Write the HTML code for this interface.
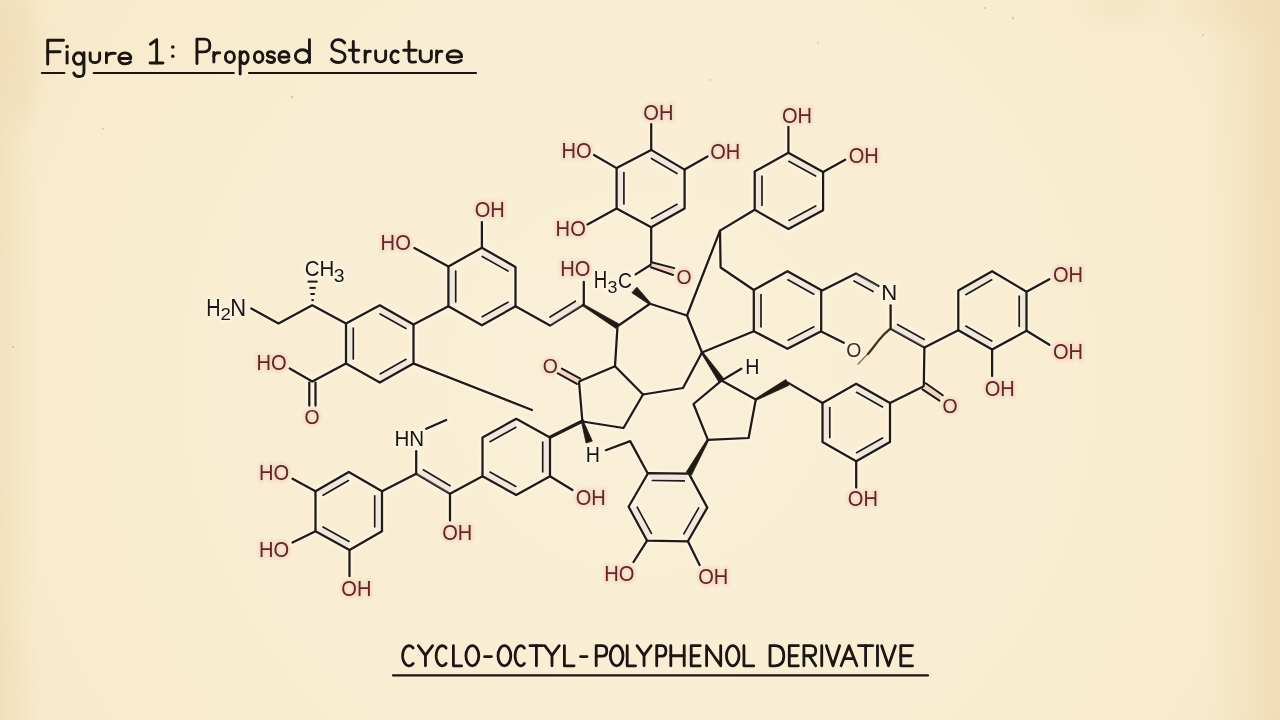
<!DOCTYPE html>
<html><head><meta charset="utf-8"><style>
html,body{margin:0;padding:0;width:1280px;height:720px;overflow:hidden;}
body{background:#f3e7cb;font-family:"Liberation Sans",sans-serif;}
svg{display:block;position:absolute;left:0;top:0;}
text{font-family:"Liberation Sans",sans-serif;}
</style></head><body>
<svg width="1280" height="720" viewBox="0 0 1280 720">
<defs>
<radialGradient id="bg" cx="640" cy="380" r="820" gradientUnits="userSpaceOnUse">
<stop offset="0" stop-color="#f9f0d8"/>
<stop offset="0.45" stop-color="#f9eed3"/>
<stop offset="0.75" stop-color="#f8ebce"/>
<stop offset="1" stop-color="#f6e6c5"/>
</radialGradient>
<linearGradient id="le" x1="0" y1="0" x2="1" y2="0">
<stop offset="0" stop-color="#ead3a8" stop-opacity="0.38"/>
<stop offset="1" stop-color="#ead3a8" stop-opacity="0"/>
</linearGradient>
<linearGradient id="re" x1="1" y1="0" x2="0" y2="0">
<stop offset="0" stop-color="#ecd3a6" stop-opacity="0.55"/>
<stop offset="1" stop-color="#eed7ac" stop-opacity="0"/>
</linearGradient>
<filter id="bb" x="-50%" y="-50%" width="200%" height="200%"><feGaussianBlur stdDeviation="10"/></filter>
<filter id="gb" x="-5%" y="-5%" width="110%" height="110%"><feGaussianBlur stdDeviation="1.2"/></filter>
<filter id="hb" x="-20%" y="-20%" width="140%" height="140%"><feGaussianBlur stdDeviation="1.6"/></filter>
</defs>
<rect width="1280" height="720" fill="url(#bg)"/>
<rect x="0" y="0" width="40" height="720" fill="url(#le)"/>
<rect x="1205" y="0" width="75" height="720" fill="url(#re)"/>
<g filter="url(#bb)" fill="#eed8ae" opacity="0.3">
<ellipse cx="1235" cy="8" rx="55" ry="22"/>
<ellipse cx="1120" cy="6" rx="40" ry="14"/>
<ellipse cx="20" cy="60" rx="25" ry="60"/>
</g>
<g fill="#b8a88c" opacity="0.55">
<circle cx="985" cy="8" r="1.1"/><circle cx="1013" cy="18" r="1.2"/><circle cx="818" cy="43" r="0.9"/><circle cx="710" cy="80" r="0.9"/>
<circle cx="292" cy="97" r="1.2"/><circle cx="103" cy="129" r="1"/><circle cx="13" cy="347" r="1.1"/><circle cx="1203" cy="35" r="0.9"/>
</g>
<g filter="url(#gb)" opacity="0.55" stroke-linecap="round" stroke-linejoin="round">
<polyline points="251.3,308.4 278.5,323.5 312.2,305.3 346.0,323.5" fill="none" stroke="#fffaf0" stroke-width="6"/>
<line x1="307.6" y1="281.6" x2="317.6" y2="281.6" stroke="#fffaf0" stroke-width="6" stroke-linecap="butt"/>
<line x1="309.5" y1="287.9" x2="315.7" y2="287.9" stroke="#fffaf0" stroke-width="6" stroke-linecap="butt"/>
<line x1="310.4" y1="294.0" x2="314.8" y2="294.0" stroke="#fffaf0" stroke-width="6" stroke-linecap="butt"/>
<line x1="311.4" y1="300.1" x2="313.8" y2="300.1" stroke="#fffaf0" stroke-width="6" stroke-linecap="butt"/>
<line x1="380.1" y1="313.9" x2="406.0" y2="328.5" stroke="#fffaf0" stroke-width="6" />
<line x1="353.3" y1="358.9" x2="353.3" y2="328.0" stroke="#fffaf0" stroke-width="6" />
<line x1="406.0" y1="359.3" x2="380.1" y2="373.9" stroke="#fffaf0" stroke-width="6" />
<polygon points="346.0,323.5 379.8,305.3 413.5,324.4 413.5,363.4 379.8,382.5 346.0,363.4" fill="none" stroke="#fffaf0" stroke-width="6"/>
<line x1="413.5" y1="324.4" x2="448.4" y2="306.3" stroke="#fffaf0" stroke-width="6" />
<line x1="413.8" y1="363.6" x2="532.0" y2="410.0" stroke="#fffaf0" stroke-width="6" />
<polyline points="346.0,363.4 312.3,381.5 289.7,368.5" fill="none" stroke="#fffaf0" stroke-width="6"/>
<line x1="309.3" y1="382.5" x2="309.3" y2="405.5" stroke="#fffaf0" stroke-width="6" />
<line x1="315.5" y1="382.5" x2="315.5" y2="405.5" stroke="#fffaf0" stroke-width="6" />
<line x1="482.2" y1="256.4" x2="508.0" y2="271.0" stroke="#fffaf0" stroke-width="6" />
<line x1="455.7" y1="301.8" x2="455.7" y2="271.0" stroke="#fffaf0" stroke-width="6" />
<line x1="508.0" y1="302.2" x2="482.2" y2="316.7" stroke="#fffaf0" stroke-width="6" />
<polygon points="481.9,247.8 515.5,266.9 515.5,306.3 481.9,325.3 448.4,306.3 448.4,266.5" fill="none" stroke="#fffaf0" stroke-width="6"/>
<line x1="481.9" y1="247.8" x2="481.9" y2="222.0" stroke="#fffaf0" stroke-width="6" />
<line x1="448.4" y1="266.5" x2="414.4" y2="248.0" stroke="#fffaf0" stroke-width="6" />
<polyline points="515.5,306.3 550.0,325.6 583.1,305.0" fill="none" stroke="#fffaf0" stroke-width="6"/>
<line x1="550.0" y1="317.0" x2="575.4" y2="301.2" stroke="#fffaf0" stroke-width="6" />
<line x1="583.8" y1="304.5" x2="583.8" y2="281.9" stroke="#fffaf0" stroke-width="6" />
<polygon points="617.5,326.2 650.0,303.8 687.0,315.5 702.0,352.5 683.0,388.0 643.0,394.5 615.0,366.2" fill="none" stroke="#fffaf0" stroke-width="6"/>
<line x1="651.2" y1="227.2" x2="651.2" y2="263.8" stroke="#fffaf0" stroke-width="6" />
<line x1="651.2" y1="264.5" x2="635.6" y2="274.4" stroke="#fffaf0" stroke-width="6" />
<line x1="651.5" y1="262.3" x2="674.4" y2="268.1" stroke="#fffaf0" stroke-width="6" />
<line x1="650.8" y1="267.2" x2="673.1" y2="275.0" stroke="#fffaf0" stroke-width="6" />
<line x1="687.0" y1="315.5" x2="720.0" y2="230.6" stroke="#fffaf0" stroke-width="6" />
<polyline points="754.7,209.8 720.0,230.6 720.6,267.5 753.8,290.0" fill="none" stroke="#fffaf0" stroke-width="6"/>
<line x1="702.0" y1="352.5" x2="753.8" y2="331.2" stroke="#fffaf0" stroke-width="6" />
<line x1="787.9" y1="279.8" x2="813.8" y2="294.2" stroke="#fffaf0" stroke-width="6" />
<line x1="761.0" y1="326.8" x2="761.0" y2="294.5" stroke="#fffaf0" stroke-width="6" />
<line x1="813.9" y1="326.8" x2="788.1" y2="340.2" stroke="#fffaf0" stroke-width="6" />
<polygon points="753.8,290.0 787.5,271.2 821.2,290.0 821.2,331.2 787.5,348.8 753.8,331.2" fill="none" stroke="#fffaf0" stroke-width="6"/>
<polyline points="821.2,291.0 855.9,273.4 878.5,286.0" fill="none" stroke="#fffaf0" stroke-width="6"/>
<line x1="854.0" y1="280.9" x2="873.1" y2="291.6" stroke="#fffaf0" stroke-width="6" />
<line x1="890.6" y1="305.3" x2="890.6" y2="328.8" stroke="#fffaf0" stroke-width="6" />
<line x1="821.2" y1="331.6" x2="843.8" y2="342.8" stroke="#fffaf0" stroke-width="6" />
<line x1="890.6" y1="328.8" x2="924.4" y2="347.5" stroke="#fffaf0" stroke-width="6" />
<line x1="897.5" y1="324.6" x2="924.3" y2="339.4" stroke="#fffaf0" stroke-width="6" />
<line x1="924.4" y1="347.5" x2="958.3" y2="330.2" stroke="#fffaf0" stroke-width="6" />
<line x1="924.4" y1="347.5" x2="923.8" y2="386.2" stroke="#fffaf0" stroke-width="6" />
<line x1="923.8" y1="386.2" x2="890.0" y2="403.0" stroke="#fffaf0" stroke-width="6" />
<line x1="925.8" y1="383.2" x2="942.8" y2="395.3" stroke="#fffaf0" stroke-width="6" />
<line x1="922.4" y1="389.4" x2="939.4" y2="400.6" stroke="#fffaf0" stroke-width="6" />
<line x1="965.8" y1="294.7" x2="991.8" y2="279.8" stroke="#fffaf0" stroke-width="6" />
<line x1="1019.2" y1="296.2" x2="1019.2" y2="326.3" stroke="#fffaf0" stroke-width="6" />
<line x1="991.8" y1="341.0" x2="965.8" y2="326.1" stroke="#fffaf0" stroke-width="6" />
<polygon points="992.1,271.2 1026.5,291.7 1026.5,330.8 992.1,349.6 958.3,330.2 958.3,290.6" fill="none" stroke="#fffaf0" stroke-width="6"/>
<line x1="1026.5" y1="291.7" x2="1049.4" y2="279.2" stroke="#fffaf0" stroke-width="6" />
<line x1="1026.5" y1="330.8" x2="1049.4" y2="344.8" stroke="#fffaf0" stroke-width="6" />
<line x1="992.1" y1="349.6" x2="992.1" y2="376.0" stroke="#fffaf0" stroke-width="6" />
<line x1="788.8" y1="161.3" x2="815.6" y2="176.1" stroke="#fffaf0" stroke-width="6" />
<line x1="762.0" y1="205.2" x2="762.0" y2="176.0" stroke="#fffaf0" stroke-width="6" />
<line x1="815.7" y1="206.0" x2="788.9" y2="220.4" stroke="#fffaf0" stroke-width="6" />
<polygon points="788.4,152.8 823.1,171.9 823.1,210.3 788.4,229.0 754.7,209.8 754.7,171.5" fill="none" stroke="#fffaf0" stroke-width="6"/>
<line x1="788.4" y1="152.8" x2="788.4" y2="126.9" stroke="#fffaf0" stroke-width="6" />
<line x1="823.1" y1="171.9" x2="845.2" y2="159.7" stroke="#fffaf0" stroke-width="6" />
<line x1="651.4" y1="158.5" x2="677.0" y2="173.6" stroke="#fffaf0" stroke-width="6" />
<line x1="623.9" y1="203.9" x2="623.9" y2="172.6" stroke="#fffaf0" stroke-width="6" />
<line x1="677.1" y1="204.3" x2="651.6" y2="218.6" stroke="#fffaf0" stroke-width="6" />
<polygon points="651.2,149.9 684.6,169.6 684.6,208.4 651.2,227.2 616.6,208.4 616.6,168.1" fill="none" stroke="#fffaf0" stroke-width="6"/>
<line x1="651.2" y1="149.9" x2="651.2" y2="124.0" stroke="#fffaf0" stroke-width="6" />
<line x1="616.6" y1="168.1" x2="594.0" y2="155.0" stroke="#fffaf0" stroke-width="6" />
<line x1="684.6" y1="169.6" x2="707.5" y2="156.5" stroke="#fffaf0" stroke-width="6" />
<line x1="616.6" y1="208.4" x2="587.5" y2="224.4" stroke="#fffaf0" stroke-width="6" />
<polyline points="615.0,366.2 579.0,381.5 582.4,421.5 623.5,428.0 643.0,394.5" fill="none" stroke="#fffaf0" stroke-width="6"/>
<line x1="580.3" y1="378.6" x2="561.9" y2="368.6" stroke="#fffaf0" stroke-width="6" />
<line x1="576.9" y1="383.9" x2="557.8" y2="373.3" stroke="#fffaf0" stroke-width="6" />
<line x1="582.6" y1="421.0" x2="550.0" y2="437.3" stroke="#fffaf0" stroke-width="6" />
<polyline points="605.8,450.2 630.2,441.1 647.5,473.0" fill="none" stroke="#fffaf0" stroke-width="6"/>
<line x1="490.0" y1="441.7" x2="515.9" y2="427.3" stroke="#fffaf0" stroke-width="6" />
<line x1="542.7" y1="442.0" x2="542.7" y2="471.8" stroke="#fffaf0" stroke-width="6" />
<line x1="515.9" y1="486.4" x2="490.0" y2="472.1" stroke="#fffaf0" stroke-width="6" />
<polygon points="516.2,418.8 550.0,437.5 550.0,476.2 516.2,495.0 482.5,476.2 482.5,437.5" fill="none" stroke="#fffaf0" stroke-width="6"/>
<line x1="550.0" y1="476.2" x2="572.5" y2="490.0" stroke="#fffaf0" stroke-width="6" />
<polyline points="482.5,476.2 450.0,493.8 416.2,473.8 382.0,491.2" fill="none" stroke="#fffaf0" stroke-width="6"/>
<line x1="423.3" y1="469.8" x2="450.1" y2="485.7" stroke="#fffaf0" stroke-width="6" />
<line x1="450.0" y1="493.8" x2="450.0" y2="520.5" stroke="#fffaf0" stroke-width="6" />
<line x1="416.2" y1="473.8" x2="416.2" y2="451.2" stroke="#fffaf0" stroke-width="6" />
<line x1="426.2" y1="428.8" x2="446.2" y2="420.0" stroke="#fffaf0" stroke-width="6" />
<line x1="323.1" y1="495.3" x2="348.5" y2="480.6" stroke="#fffaf0" stroke-width="6" />
<line x1="374.7" y1="495.8" x2="374.7" y2="526.8" stroke="#fffaf0" stroke-width="6" />
<line x1="349.1" y1="541.4" x2="323.0" y2="527.0" stroke="#fffaf0" stroke-width="6" />
<polygon points="348.8,472.0 382.0,491.2 382.0,531.2 349.5,550.0 315.5,531.2 315.5,491.2" fill="none" stroke="#fffaf0" stroke-width="6"/>
<line x1="315.5" y1="491.2" x2="292.5" y2="478.8" stroke="#fffaf0" stroke-width="6" />
<line x1="315.5" y1="531.2" x2="292.5" y2="542.5" stroke="#fffaf0" stroke-width="6" />
<line x1="349.5" y1="550.0" x2="349.5" y2="576.2" stroke="#fffaf0" stroke-width="6" />
<line x1="652.4" y1="480.5" x2="684.3" y2="480.9" stroke="#fffaf0" stroke-width="6" />
<line x1="698.7" y1="507.9" x2="683.8" y2="533.8" stroke="#fffaf0" stroke-width="6" />
<line x1="651.4" y1="533.3" x2="637.2" y2="507.2" stroke="#fffaf0" stroke-width="6" />
<polygon points="648.0,473.2 688.9,473.6 707.3,507.6 687.9,541.3 647.1,540.7 628.6,506.7" fill="none" stroke="#fffaf0" stroke-width="6"/>
<line x1="647.1" y1="540.7" x2="633.5" y2="562.0" stroke="#fffaf0" stroke-width="6" />
<line x1="687.9" y1="541.3" x2="699.6" y2="565.0" stroke="#fffaf0" stroke-width="6" />
<polygon points="721.5,380.6 755.8,399.5 748.6,438.0 707.9,439.8 693.5,404.0" fill="none" stroke="#fffaf0" stroke-width="6"/>
<line x1="721.5" y1="380.6" x2="741.3" y2="368.8" stroke="#fffaf0" stroke-width="6" />
<line x1="787.4" y1="382.4" x2="822.5" y2="403.0" stroke="#fffaf0" stroke-width="6" />
<line x1="856.5" y1="392.3" x2="882.5" y2="407.1" stroke="#fffaf0" stroke-width="6" />
<line x1="829.8" y1="407.5" x2="829.8" y2="437.5" stroke="#fffaf0" stroke-width="6" />
<line x1="882.5" y1="437.9" x2="856.5" y2="452.7" stroke="#fffaf0" stroke-width="6" />
<polygon points="856.2,383.8 890.0,403.0 890.0,442.0 856.2,461.2 822.5,442.0 822.5,403.0" fill="none" stroke="#fffaf0" stroke-width="6"/>
<line x1="856.2" y1="461.2" x2="856.2" y2="487.5" stroke="#fffaf0" stroke-width="6" />
</g>
<g filter="url(#hb)" opacity="0.45">
<text transform="translate(474.70,216.70) scale(0.912,1)" font-size="22.00" fill="#eec2b2" stroke="#eec2b2" stroke-width="4.5" stroke-linejoin="round">OH</text>
<text transform="translate(380.59,250.20) scale(0.916,1)" font-size="22.00" fill="#eec2b2" stroke="#eec2b2" stroke-width="4.5" stroke-linejoin="round">HO</text>
<text transform="translate(560.24,276.12) scale(0.916,1)" font-size="22.00" fill="#eec2b2" stroke="#eec2b2" stroke-width="4.5" stroke-linejoin="round">HO</text>
<text transform="translate(256.46,369.95) scale(0.916,1)" font-size="22.00" fill="#eec2b2" stroke="#eec2b2" stroke-width="4.5" stroke-linejoin="round">HO</text>
<text transform="translate(304.60,424.43) scale(0.931,1)" font-size="20.86" fill="#eec2b2" stroke="#eec2b2" stroke-width="4.5" stroke-linejoin="round">O</text>
<text transform="translate(258.96,479.70) scale(0.916,1)" font-size="22.00" fill="#eec2b2" stroke="#eec2b2" stroke-width="4.5" stroke-linejoin="round">HO</text>
<text transform="translate(258.96,557.08) scale(0.916,1)" font-size="22.00" fill="#eec2b2" stroke="#eec2b2" stroke-width="4.5" stroke-linejoin="round">HO</text>
<text transform="translate(341.30,596.08) scale(0.912,1)" font-size="22.00" fill="#eec2b2" stroke="#eec2b2" stroke-width="4.5" stroke-linejoin="round">OH</text>
<text transform="translate(442.17,540.45) scale(0.912,1)" font-size="22.00" fill="#eec2b2" stroke="#eec2b2" stroke-width="4.5" stroke-linejoin="round">OH</text>
<text transform="translate(575.67,504.82) scale(0.912,1)" font-size="22.00" fill="#eec2b2" stroke="#eec2b2" stroke-width="4.5" stroke-linejoin="round">OH</text>
<text transform="translate(643.35,119.75) scale(0.912,1)" font-size="22.00" fill="#eec2b2" stroke="#eec2b2" stroke-width="4.5" stroke-linejoin="round">OH</text>
<text transform="translate(561.41,157.55) scale(0.916,1)" font-size="22.00" fill="#eec2b2" stroke="#eec2b2" stroke-width="4.5" stroke-linejoin="round">HO</text>
<text transform="translate(710.25,159.07) scale(0.912,1)" font-size="22.00" fill="#eec2b2" stroke="#eec2b2" stroke-width="4.5" stroke-linejoin="round">OH</text>
<text transform="translate(555.59,235.50) scale(0.916,1)" font-size="22.00" fill="#eec2b2" stroke="#eec2b2" stroke-width="4.5" stroke-linejoin="round">HO</text>
<text transform="translate(676.48,283.55) scale(0.931,1)" font-size="20.86" fill="#eec2b2" stroke="#eec2b2" stroke-width="4.5" stroke-linejoin="round">O</text>
<text transform="translate(542.78,373.05) scale(0.931,1)" font-size="20.86" fill="#eec2b2" stroke="#eec2b2" stroke-width="4.5" stroke-linejoin="round">O</text>
<text transform="translate(781.90,123.05) scale(0.912,1)" font-size="22.00" fill="#eec2b2" stroke="#eec2b2" stroke-width="4.5" stroke-linejoin="round">OH</text>
<text transform="translate(848.75,162.70) scale(0.912,1)" font-size="22.00" fill="#eec2b2" stroke="#eec2b2" stroke-width="4.5" stroke-linejoin="round">OH</text>
<text transform="translate(1052.90,282.18) scale(0.912,1)" font-size="22.00" fill="#eec2b2" stroke="#eec2b2" stroke-width="4.5" stroke-linejoin="round">OH</text>
<text transform="translate(1052.90,358.52) scale(0.912,1)" font-size="22.00" fill="#eec2b2" stroke="#eec2b2" stroke-width="4.5" stroke-linejoin="round">OH</text>
<text transform="translate(984.65,396.22) scale(0.912,1)" font-size="22.00" fill="#eec2b2" stroke="#eec2b2" stroke-width="4.5" stroke-linejoin="round">OH</text>
<text transform="translate(942.48,412.93) scale(0.931,1)" font-size="20.86" fill="#eec2b2" stroke="#eec2b2" stroke-width="4.5" stroke-linejoin="round">O</text>
<text transform="translate(847.80,506.45) scale(0.912,1)" font-size="22.00" fill="#eec2b2" stroke="#eec2b2" stroke-width="4.5" stroke-linejoin="round">OH</text>
<text transform="translate(604.14,581.45) scale(0.916,1)" font-size="22.00" fill="#eec2b2" stroke="#eec2b2" stroke-width="4.5" stroke-linejoin="round">HO</text>
<text transform="translate(698.20,583.85) scale(0.912,1)" font-size="22.00" fill="#eec2b2" stroke="#eec2b2" stroke-width="4.5" stroke-linejoin="round">OH</text>
<text transform="translate(846.23,357.20) scale(0.931,1)" font-size="20.86" fill="#fffcf4" stroke="#fffcf4" stroke-width="5" stroke-linejoin="round">O</text>
<text transform="translate(394.45,445.60) scale(0.930,1)" font-size="22.17" fill="#fffcf4" stroke="#fffcf4" stroke-width="5" stroke-linejoin="round">HN</text>
<text transform="translate(585.83,462.40) scale(0.880,1)" font-size="22.32" fill="#fffcf4" stroke="#fffcf4" stroke-width="5" stroke-linejoin="round">H</text>
<text transform="translate(745.33,373.75) scale(0.866,1)" font-size="22.68" fill="#fffcf4" stroke="#fffcf4" stroke-width="5" stroke-linejoin="round">H</text>
<text transform="translate(881.13,300.30) scale(1.025,1)" font-size="21.59" fill="#fffcf4" stroke="#fffcf4" stroke-width="5" stroke-linejoin="round">N</text>
<text transform="translate(206.21,315.60) scale(0.814,1)" font-size="24.35" fill="#fffcf4" stroke="#fffcf4" stroke-width="5" stroke-linejoin="round">H</text>
<text transform="translate(220.57,320.10) scale(1.127,1)" font-size="16.57" fill="#fffcf4" stroke="#fffcf4" stroke-width="5" stroke-linejoin="round">2</text>
<text transform="translate(230.34,315.60) scale(0.919,1)" font-size="23.91" fill="#fffcf4" stroke="#fffcf4" stroke-width="5" stroke-linejoin="round">N</text>
<text transform="translate(304.68,276.40) scale(0.912,1)" font-size="22.43" fill="#fffcf4" stroke="#fffcf4" stroke-width="5" stroke-linejoin="round">CH</text>
<text transform="translate(333.63,282.10) scale(1.111,1)" font-size="17.43" fill="#fffcf4" stroke="#fffcf4" stroke-width="5" stroke-linejoin="round">3</text>
<text transform="translate(593.80,287.50) scale(0.804,1)" font-size="23.33" fill="#fffcf4" stroke="#fffcf4" stroke-width="5" stroke-linejoin="round">H</text>
<text transform="translate(607.59,292.50) scale(1.051,1)" font-size="17.00" fill="#fffcf4" stroke="#fffcf4" stroke-width="5" stroke-linejoin="round">3</text>
<text transform="translate(617.93,287.50) scale(0.869,1)" font-size="22.29" fill="#fffcf4" stroke="#fffcf4" stroke-width="5" stroke-linejoin="round">C</text>
</g>
<g stroke-linecap="round" stroke-linejoin="round">
<polyline points="251.3,308.4 278.5,323.5 312.2,305.3 346.0,323.5" fill="none" stroke="#211913" stroke-width="2.25"/>
<line x1="307.6" y1="281.6" x2="317.6" y2="281.6" stroke="#211913" stroke-width="2.0" stroke-linecap="butt"/>
<line x1="309.5" y1="287.9" x2="315.7" y2="287.9" stroke="#211913" stroke-width="2.0" stroke-linecap="butt"/>
<line x1="310.4" y1="294.0" x2="314.8" y2="294.0" stroke="#211913" stroke-width="2.0" stroke-linecap="butt"/>
<line x1="311.4" y1="300.1" x2="313.8" y2="300.1" stroke="#211913" stroke-width="2.0" stroke-linecap="butt"/>
<polygon points="379.8,305.3 413.5,324.4 406.0,328.5 380.1,313.9" fill="#d9d0d2" fill-opacity="0.32" stroke="none"/>
<line x1="380.1" y1="313.9" x2="406.0" y2="328.5" stroke="#211913" stroke-width="1.7" />
<polygon points="346.0,363.4 346.0,323.5 353.3,328.0 353.3,358.9" fill="#d9d0d2" fill-opacity="0.32" stroke="none"/>
<line x1="353.3" y1="358.9" x2="353.3" y2="328.0" stroke="#211913" stroke-width="1.7" />
<polygon points="413.5,363.4 379.8,382.5 380.1,373.9 406.0,359.3" fill="#d9d0d2" fill-opacity="0.32" stroke="none"/>
<line x1="406.0" y1="359.3" x2="380.1" y2="373.9" stroke="#211913" stroke-width="1.7" />
<polygon points="346.0,323.5 379.8,305.3 413.5,324.4 413.5,363.4 379.8,382.5 346.0,363.4" fill="none" stroke="#211913" stroke-width="2.25"/>
<line x1="413.5" y1="324.4" x2="448.4" y2="306.3" stroke="#211913" stroke-width="2.25" />
<line x1="413.8" y1="363.6" x2="532.0" y2="410.0" stroke="#211913" stroke-width="2.25" />
<polyline points="346.0,363.4 312.3,381.5 289.7,368.5" fill="none" stroke="#211913" stroke-width="2.25"/>
<line x1="309.3" y1="382.5" x2="309.3" y2="405.5" stroke="#211913" stroke-width="2.25" />
<line x1="315.5" y1="382.5" x2="315.5" y2="405.5" stroke="#211913" stroke-width="2.25" />
<polygon points="481.9,247.8 515.5,266.9 508.0,271.0 482.2,256.4" fill="#d9d0d2" fill-opacity="0.32" stroke="none"/>
<line x1="482.2" y1="256.4" x2="508.0" y2="271.0" stroke="#211913" stroke-width="1.7" />
<polygon points="448.4,306.3 448.4,266.5 455.7,271.0 455.7,301.8" fill="#d9d0d2" fill-opacity="0.32" stroke="none"/>
<line x1="455.7" y1="301.8" x2="455.7" y2="271.0" stroke="#211913" stroke-width="1.7" />
<polygon points="515.5,306.3 481.9,325.3 482.2,316.7 508.0,302.2" fill="#d9d0d2" fill-opacity="0.32" stroke="none"/>
<line x1="508.0" y1="302.2" x2="482.2" y2="316.7" stroke="#211913" stroke-width="1.7" />
<polygon points="481.9,247.8 515.5,266.9 515.5,306.3 481.9,325.3 448.4,306.3 448.4,266.5" fill="none" stroke="#211913" stroke-width="2.25"/>
<line x1="481.9" y1="247.8" x2="481.9" y2="222.0" stroke="#211913" stroke-width="2.25" />
<line x1="448.4" y1="266.5" x2="414.4" y2="248.0" stroke="#211913" stroke-width="2.25" />
<polyline points="515.5,306.3 550.0,325.6 583.1,305.0" fill="none" stroke="#211913" stroke-width="2.25"/>
<polygon points="550.0,325.6 583.1,305.0 575.4,301.2 550.0,317.0" fill="#d9d0d2" fill-opacity="0.32" stroke="none"/>
<line x1="550.0" y1="317.0" x2="575.4" y2="301.2" stroke="#211913" stroke-width="1.7" />
<line x1="583.8" y1="304.5" x2="583.8" y2="281.9" stroke="#211913" stroke-width="2.25" />
<polygon points="582.6,305.8 616.1,328.5 618.9,323.9 583.6,304.2" fill="#211913" stroke="#211913" stroke-width="0.8" stroke-linejoin="round"/>
<polygon points="617.5,326.2 650.0,303.8 687.0,315.5 702.0,352.5 683.0,388.0 643.0,394.5 615.0,366.2" fill="none" stroke="#211913" stroke-width="2.25"/>
<polygon points="650.6,303.1 636.9,287.2 631.9,292.8 649.4,304.4" fill="#211913" stroke="#211913" stroke-width="0.8" stroke-linejoin="round"/>
<line x1="651.2" y1="227.2" x2="651.2" y2="263.8" stroke="#211913" stroke-width="2.25" />
<line x1="651.2" y1="264.5" x2="635.6" y2="274.4" stroke="#211913" stroke-width="2.25" />
<polygon points="651.5,262.3 674.4,268.1 673.1,275 650.8,267.2" fill="#eebfb0" fill-opacity="0.6"/>
<line x1="651.5" y1="262.3" x2="674.4" y2="268.1" stroke="#211913" stroke-width="2.0" />
<line x1="650.8" y1="267.2" x2="673.1" y2="275.0" stroke="#211913" stroke-width="2.0" />
<line x1="687.0" y1="315.5" x2="720.0" y2="230.6" stroke="#211913" stroke-width="2.25" />
<polyline points="754.7,209.8 720.0,230.6 720.6,267.5 753.8,290.0" fill="none" stroke="#211913" stroke-width="2.25"/>
<line x1="702.0" y1="352.5" x2="753.8" y2="331.2" stroke="#211913" stroke-width="2.25" />
<polygon points="787.5,271.2 821.2,290.0 813.8,294.2 787.9,279.8" fill="#d9d0d2" fill-opacity="0.32" stroke="none"/>
<line x1="787.9" y1="279.8" x2="813.8" y2="294.2" stroke="#211913" stroke-width="1.7" />
<polygon points="753.8,331.2 753.8,290.0 761.0,294.5 761.0,326.8" fill="#d9d0d2" fill-opacity="0.32" stroke="none"/>
<line x1="761.0" y1="326.8" x2="761.0" y2="294.5" stroke="#211913" stroke-width="1.7" />
<polygon points="821.2,331.2 787.5,348.8 788.1,340.2 813.9,326.8" fill="#d9d0d2" fill-opacity="0.32" stroke="none"/>
<line x1="813.9" y1="326.8" x2="788.1" y2="340.2" stroke="#211913" stroke-width="1.7" />
<polygon points="753.8,290.0 787.5,271.2 821.2,290.0 821.2,331.2 787.5,348.8 753.8,331.2" fill="none" stroke="#211913" stroke-width="2.25"/>
<polyline points="821.2,291.0 855.9,273.4 878.5,286.0" fill="none" stroke="#211913" stroke-width="2.25"/>
<polygon points="855.9,273.4 878.5,286.0 873.1,291.6 854.0,280.9" fill="#d9d0d2" fill-opacity="0.32" stroke="none"/>
<line x1="854.0" y1="280.9" x2="873.1" y2="291.6" stroke="#211913" stroke-width="1.7" />
<line x1="890.6" y1="305.3" x2="890.6" y2="328.8" stroke="#211913" stroke-width="2.25" />
<path d="M890.3,328.7 C884,334 881,337.5 878.9,340.1 C875,345 872.5,348.5 870.6,350.6 C867,355 862,360 858,364.1" fill="none" stroke="#86654c" stroke-width="1.3" stroke-linecap="round"/>
<path d="M890.3,328.7 C884,334 881,337.5 878.9,340.1 C875,345 872.5,348.5 868,354" fill="none" stroke="#4e3022" stroke-width="2.3" stroke-linecap="round"/>
<line x1="821.2" y1="331.6" x2="843.8" y2="342.8" stroke="#211913" stroke-width="2.25" />
<line x1="890.6" y1="328.8" x2="924.4" y2="347.5" stroke="#211913" stroke-width="2.25" />
<polygon points="890.6,328.8 924.4,347.5 924.3,339.4 897.5,324.6" fill="#d9d0d2" fill-opacity="0.32" stroke="none"/>
<line x1="897.5" y1="324.6" x2="924.3" y2="339.4" stroke="#211913" stroke-width="1.7" />
<line x1="924.4" y1="347.5" x2="958.3" y2="330.2" stroke="#211913" stroke-width="2.25" />
<line x1="924.4" y1="347.5" x2="923.8" y2="386.2" stroke="#211913" stroke-width="2.25" />
<line x1="923.8" y1="386.2" x2="890.0" y2="403.0" stroke="#211913" stroke-width="2.25" />
<polygon points="925.8,383.2 942.8,395.3 939.4,400.6 922.4,389.4" fill="#eebfb0" fill-opacity="0.6"/>
<line x1="925.8" y1="383.2" x2="942.8" y2="395.3" stroke="#211913" stroke-width="2.0" />
<line x1="922.4" y1="389.4" x2="939.4" y2="400.6" stroke="#211913" stroke-width="2.0" />
<polygon points="958.3,290.6 992.1,271.2 991.8,279.8 965.8,294.7" fill="#d9d0d2" fill-opacity="0.32" stroke="none"/>
<line x1="965.8" y1="294.7" x2="991.8" y2="279.8" stroke="#211913" stroke-width="1.7" />
<polygon points="1026.5,291.7 1026.5,330.8 1019.2,326.3 1019.2,296.2" fill="#d9d0d2" fill-opacity="0.32" stroke="none"/>
<line x1="1019.2" y1="296.2" x2="1019.2" y2="326.3" stroke="#211913" stroke-width="1.7" />
<polygon points="992.1,349.6 958.3,330.2 965.8,326.1 991.8,341.0" fill="#d9d0d2" fill-opacity="0.32" stroke="none"/>
<line x1="991.8" y1="341.0" x2="965.8" y2="326.1" stroke="#211913" stroke-width="1.7" />
<polygon points="992.1,271.2 1026.5,291.7 1026.5,330.8 992.1,349.6 958.3,330.2 958.3,290.6" fill="none" stroke="#211913" stroke-width="2.25"/>
<line x1="1026.5" y1="291.7" x2="1049.4" y2="279.2" stroke="#211913" stroke-width="2.25" />
<line x1="1026.5" y1="330.8" x2="1049.4" y2="344.8" stroke="#211913" stroke-width="2.25" />
<line x1="992.1" y1="349.6" x2="992.1" y2="376.0" stroke="#211913" stroke-width="2.25" />
<polygon points="788.4,152.8 823.1,171.9 815.6,176.1 788.8,161.3" fill="#d9d0d2" fill-opacity="0.32" stroke="none"/>
<line x1="788.8" y1="161.3" x2="815.6" y2="176.1" stroke="#211913" stroke-width="1.7" />
<polygon points="754.7,209.8 754.7,171.5 762.0,176.0 762.0,205.2" fill="#d9d0d2" fill-opacity="0.32" stroke="none"/>
<line x1="762.0" y1="205.2" x2="762.0" y2="176.0" stroke="#211913" stroke-width="1.7" />
<polygon points="823.1,210.3 788.4,229.0 788.9,220.4 815.7,206.0" fill="#d9d0d2" fill-opacity="0.32" stroke="none"/>
<line x1="815.7" y1="206.0" x2="788.9" y2="220.4" stroke="#211913" stroke-width="1.7" />
<polygon points="788.4,152.8 823.1,171.9 823.1,210.3 788.4,229.0 754.7,209.8 754.7,171.5" fill="none" stroke="#211913" stroke-width="2.25"/>
<line x1="788.4" y1="152.8" x2="788.4" y2="126.9" stroke="#211913" stroke-width="2.25" />
<line x1="823.1" y1="171.9" x2="845.2" y2="159.7" stroke="#211913" stroke-width="2.25" />
<polygon points="651.2,149.9 684.6,169.6 677.0,173.6 651.4,158.5" fill="#d9d0d2" fill-opacity="0.32" stroke="none"/>
<line x1="651.4" y1="158.5" x2="677.0" y2="173.6" stroke="#211913" stroke-width="1.7" />
<polygon points="616.6,208.4 616.6,168.1 623.9,172.6 623.9,203.9" fill="#d9d0d2" fill-opacity="0.32" stroke="none"/>
<line x1="623.9" y1="203.9" x2="623.9" y2="172.6" stroke="#211913" stroke-width="1.7" />
<polygon points="684.6,208.4 651.2,227.2 651.6,218.6 677.1,204.3" fill="#d9d0d2" fill-opacity="0.32" stroke="none"/>
<line x1="677.1" y1="204.3" x2="651.6" y2="218.6" stroke="#211913" stroke-width="1.7" />
<polygon points="651.2,149.9 684.6,169.6 684.6,208.4 651.2,227.2 616.6,208.4 616.6,168.1" fill="none" stroke="#211913" stroke-width="2.25"/>
<line x1="651.2" y1="149.9" x2="651.2" y2="124.0" stroke="#211913" stroke-width="2.25" />
<line x1="616.6" y1="168.1" x2="594.0" y2="155.0" stroke="#211913" stroke-width="2.25" />
<line x1="684.6" y1="169.6" x2="707.5" y2="156.5" stroke="#211913" stroke-width="2.25" />
<line x1="616.6" y1="208.4" x2="587.5" y2="224.4" stroke="#211913" stroke-width="2.25" />
<polyline points="615.0,366.2 579.0,381.5 582.4,421.5 623.5,428.0 643.0,394.5" fill="none" stroke="#211913" stroke-width="2.25"/>
<polygon points="580.3,378.6 561.9,368.6 557.8,373.3 576.9,383.9" fill="#eebfb0" fill-opacity="0.6"/>
<line x1="580.3" y1="378.6" x2="561.9" y2="368.6" stroke="#211913" stroke-width="2.0" />
<line x1="576.9" y1="383.9" x2="557.8" y2="373.3" stroke="#211913" stroke-width="2.0" />
<polygon points="581.5,421.8 586.1,443.0 592.3,441.0 583.3,421.2" fill="#211913" stroke="#211913" stroke-width="0.8" stroke-linejoin="round"/>
<line x1="582.6" y1="421.0" x2="550.0" y2="437.3" stroke="#211913" stroke-width="3.3" />
<polyline points="605.8,450.2 630.2,441.1 647.5,473.0" fill="none" stroke="#211913" stroke-width="2.25"/>
<polygon points="482.5,437.5 516.2,418.8 515.9,427.3 490.0,441.7" fill="#d9d0d2" fill-opacity="0.32" stroke="none"/>
<line x1="490.0" y1="441.7" x2="515.9" y2="427.3" stroke="#211913" stroke-width="1.7" />
<polygon points="550.0,437.5 550.0,476.2 542.7,471.8 542.7,442.0" fill="#d9d0d2" fill-opacity="0.32" stroke="none"/>
<line x1="542.7" y1="442.0" x2="542.7" y2="471.8" stroke="#211913" stroke-width="1.7" />
<polygon points="516.2,495.0 482.5,476.2 490.0,472.1 515.9,486.4" fill="#d9d0d2" fill-opacity="0.32" stroke="none"/>
<line x1="515.9" y1="486.4" x2="490.0" y2="472.1" stroke="#211913" stroke-width="1.7" />
<polygon points="516.2,418.8 550.0,437.5 550.0,476.2 516.2,495.0 482.5,476.2 482.5,437.5" fill="none" stroke="#211913" stroke-width="2.25"/>
<line x1="550.0" y1="476.2" x2="572.5" y2="490.0" stroke="#211913" stroke-width="2.25" />
<polyline points="482.5,476.2 450.0,493.8 416.2,473.8 382.0,491.2" fill="none" stroke="#211913" stroke-width="2.25"/>
<polygon points="416.2,473.8 450.0,493.8 450.1,485.7 423.3,469.8" fill="#d9d0d2" fill-opacity="0.32" stroke="none"/>
<line x1="423.3" y1="469.8" x2="450.1" y2="485.7" stroke="#211913" stroke-width="1.7" />
<line x1="450.0" y1="493.8" x2="450.0" y2="520.5" stroke="#211913" stroke-width="2.25" />
<line x1="416.2" y1="473.8" x2="416.2" y2="451.2" stroke="#211913" stroke-width="2.25" />
<line x1="426.2" y1="428.8" x2="446.2" y2="420.0" stroke="#211913" stroke-width="2.25" />
<polygon points="315.5,491.2 348.8,472.0 348.5,480.6 323.1,495.3" fill="#d9d0d2" fill-opacity="0.32" stroke="none"/>
<line x1="323.1" y1="495.3" x2="348.5" y2="480.6" stroke="#211913" stroke-width="1.7" />
<polygon points="382.0,491.2 382.0,531.2 374.7,526.8 374.7,495.8" fill="#d9d0d2" fill-opacity="0.32" stroke="none"/>
<line x1="374.7" y1="495.8" x2="374.7" y2="526.8" stroke="#211913" stroke-width="1.7" />
<polygon points="349.5,550.0 315.5,531.2 323.0,527.0 349.1,541.4" fill="#d9d0d2" fill-opacity="0.32" stroke="none"/>
<line x1="349.1" y1="541.4" x2="323.0" y2="527.0" stroke="#211913" stroke-width="1.7" />
<polygon points="348.8,472.0 382.0,491.2 382.0,531.2 349.5,550.0 315.5,531.2 315.5,491.2" fill="none" stroke="#211913" stroke-width="2.25"/>
<line x1="315.5" y1="491.2" x2="292.5" y2="478.8" stroke="#211913" stroke-width="2.25" />
<line x1="315.5" y1="531.2" x2="292.5" y2="542.5" stroke="#211913" stroke-width="2.25" />
<line x1="349.5" y1="550.0" x2="349.5" y2="576.2" stroke="#211913" stroke-width="2.25" />
<polygon points="648.0,473.2 688.9,473.6 684.3,480.9 652.4,480.5" fill="#d9d0d2" fill-opacity="0.32" stroke="none"/>
<line x1="652.4" y1="480.5" x2="684.3" y2="480.9" stroke="#211913" stroke-width="1.7" />
<polygon points="707.3,507.6 687.9,541.3 683.8,533.8 698.7,507.9" fill="#d9d0d2" fill-opacity="0.32" stroke="none"/>
<line x1="698.7" y1="507.9" x2="683.8" y2="533.8" stroke="#211913" stroke-width="1.7" />
<polygon points="647.1,540.7 628.6,506.7 637.2,507.2 651.4,533.3" fill="#d9d0d2" fill-opacity="0.32" stroke="none"/>
<line x1="651.4" y1="533.3" x2="637.2" y2="507.2" stroke="#211913" stroke-width="1.7" />
<polygon points="648.0,473.2 688.9,473.6 707.3,507.6 687.9,541.3 647.1,540.7 628.6,506.7" fill="none" stroke="#211913" stroke-width="2.25"/>
<line x1="647.1" y1="540.7" x2="633.5" y2="562.0" stroke="#211913" stroke-width="2.25" />
<line x1="687.9" y1="541.3" x2="699.6" y2="565.0" stroke="#211913" stroke-width="2.25" />
<polygon points="707.1,439.4 686.3,472.1 691.5,475.1 708.7,440.2" fill="#211913" stroke="#211913" stroke-width="0.8" stroke-linejoin="round"/>
<polygon points="721.5,380.6 755.8,399.5 748.6,438.0 707.9,439.8 693.5,404.0" fill="none" stroke="#211913" stroke-width="2.25"/>
<polygon points="701.3,353.0 719.0,382.3 724.0,378.9 702.7,352.0" fill="#211913" stroke="#211913" stroke-width="0.8" stroke-linejoin="round"/>
<line x1="721.5" y1="380.6" x2="741.3" y2="368.8" stroke="#211913" stroke-width="2.25" />
<polygon points="756.2,400.3 788.9,385.3 785.9,379.5 755.4,398.7" fill="#211913" stroke="#211913" stroke-width="0.8" stroke-linejoin="round"/>
<line x1="787.4" y1="382.4" x2="822.5" y2="403.0" stroke="#211913" stroke-width="2.25" />
<polygon points="856.2,383.8 890.0,403.0 882.5,407.1 856.5,392.3" fill="#d9d0d2" fill-opacity="0.32" stroke="none"/>
<line x1="856.5" y1="392.3" x2="882.5" y2="407.1" stroke="#211913" stroke-width="1.7" />
<polygon points="822.5,403.0 822.5,442.0 829.8,437.5 829.8,407.5" fill="#d9d0d2" fill-opacity="0.32" stroke="none"/>
<line x1="829.8" y1="407.5" x2="829.8" y2="437.5" stroke="#211913" stroke-width="1.7" />
<polygon points="890.0,442.0 856.2,461.2 856.5,452.7 882.5,437.9" fill="#d9d0d2" fill-opacity="0.32" stroke="none"/>
<line x1="882.5" y1="437.9" x2="856.5" y2="452.7" stroke="#211913" stroke-width="1.7" />
<polygon points="856.2,383.8 890.0,403.0 890.0,442.0 856.2,461.2 822.5,442.0 822.5,403.0" fill="none" stroke="#211913" stroke-width="2.25"/>
<line x1="856.2" y1="461.2" x2="856.2" y2="487.5" stroke="#211913" stroke-width="2.25" />
<text transform="translate(474.70,216.70) scale(0.912,1)" font-size="22.00" fill="#652528">OH</text>
<text transform="translate(380.59,250.20) scale(0.916,1)" font-size="22.00" fill="#652528">HO</text>
<text transform="translate(560.24,276.12) scale(0.916,1)" font-size="22.00" fill="#652528">HO</text>
<text transform="translate(256.46,369.95) scale(0.916,1)" font-size="22.00" fill="#652528">HO</text>
<text transform="translate(304.60,424.43) scale(0.931,1)" font-size="20.86" fill="#652528">O</text>
<text transform="translate(258.96,479.70) scale(0.916,1)" font-size="22.00" fill="#652528">HO</text>
<text transform="translate(258.96,557.08) scale(0.916,1)" font-size="22.00" fill="#652528">HO</text>
<text transform="translate(341.30,596.08) scale(0.912,1)" font-size="22.00" fill="#652528">OH</text>
<text transform="translate(442.17,540.45) scale(0.912,1)" font-size="22.00" fill="#652528">OH</text>
<text transform="translate(575.67,504.82) scale(0.912,1)" font-size="22.00" fill="#652528">OH</text>
<text transform="translate(643.35,119.75) scale(0.912,1)" font-size="22.00" fill="#652528">OH</text>
<text transform="translate(561.41,157.55) scale(0.916,1)" font-size="22.00" fill="#652528">HO</text>
<text transform="translate(710.25,159.07) scale(0.912,1)" font-size="22.00" fill="#652528">OH</text>
<text transform="translate(555.59,235.50) scale(0.916,1)" font-size="22.00" fill="#652528">HO</text>
<text transform="translate(676.48,283.55) scale(0.931,1)" font-size="20.86" fill="#652528">O</text>
<text transform="translate(542.78,373.05) scale(0.931,1)" font-size="20.86" fill="#652528">O</text>
<text transform="translate(781.90,123.05) scale(0.912,1)" font-size="22.00" fill="#652528">OH</text>
<text transform="translate(848.75,162.70) scale(0.912,1)" font-size="22.00" fill="#652528">OH</text>
<text transform="translate(1052.90,282.18) scale(0.912,1)" font-size="22.00" fill="#652528">OH</text>
<text transform="translate(1052.90,358.52) scale(0.912,1)" font-size="22.00" fill="#652528">OH</text>
<text transform="translate(984.65,396.22) scale(0.912,1)" font-size="22.00" fill="#652528">OH</text>
<text transform="translate(942.48,412.93) scale(0.931,1)" font-size="20.86" fill="#652528">O</text>
<text transform="translate(847.80,506.45) scale(0.912,1)" font-size="22.00" fill="#652528">OH</text>
<text transform="translate(604.14,581.45) scale(0.916,1)" font-size="22.00" fill="#652528">HO</text>
<text transform="translate(698.20,583.85) scale(0.912,1)" font-size="22.00" fill="#652528">OH</text>
<text transform="translate(846.23,357.20) scale(0.931,1)" font-size="20.86" fill="#4a2a20">O</text>
<text transform="translate(394.45,445.60) scale(0.930,1)" font-size="22.17" fill="#1b1511">HN</text>
<text transform="translate(585.83,462.40) scale(0.880,1)" font-size="22.32" fill="#1b1511">H</text>
<text transform="translate(745.33,373.75) scale(0.866,1)" font-size="22.68" fill="#1b1511">H</text>
<text transform="translate(881.13,300.30) scale(1.025,1)" font-size="21.59" fill="#1b1511">N</text>
<text transform="translate(206.21,315.60) scale(0.814,1)" font-size="24.35" fill="#1b1511">H</text>
<text transform="translate(220.57,320.10) scale(1.127,1)" font-size="16.57" fill="#1b1511">2</text>
<text transform="translate(230.34,315.60) scale(0.919,1)" font-size="23.91" fill="#1b1511">N</text>
<text transform="translate(304.68,276.40) scale(0.912,1)" font-size="22.43" fill="#1b1511">CH</text>
<text transform="translate(333.63,282.10) scale(1.111,1)" font-size="17.43" fill="#1b1511">3</text>
<text transform="translate(593.80,287.50) scale(0.804,1)" font-size="23.33" fill="#1b1511">H</text>
<text transform="translate(607.59,292.50) scale(1.051,1)" font-size="17.00" fill="#1b1511">3</text>
<text transform="translate(617.93,287.50) scale(0.869,1)" font-size="22.29" fill="#1b1511">C</text>
</g>
<path d="M63.55,40.20 L47.70,40.20 L47.70,64.15" fill="none" stroke="#1c1612" stroke-width="2.9" stroke-linecap="round" stroke-linejoin="round"/>
<path d="M47.70,51.70 L60.06,51.70" fill="none" stroke="#1c1612" stroke-width="2.9" stroke-linecap="round" stroke-linejoin="round"/>
<circle cx="67.10" cy="46.65" r="1.80" fill="#1c1612"/>
<path d="M67.10,51.93 L67.10,63.15" fill="none" stroke="#1c1612" stroke-width="2.9" stroke-linecap="round" stroke-linejoin="round"/>
<ellipse cx="78.58" cy="58.58" rx="5.13" ry="5.83" fill="none" stroke="#1c1612" stroke-width="2.9"/>
<path d="M83.94,52.75 L83.94,71.79 C83.94,76.55 81.43,76.55 79.15,76.55 C76.87,76.55 74.59,75.36 73.79,72.98" fill="none" stroke="#1c1612" stroke-width="2.9" stroke-linecap="round" stroke-linejoin="round"/>
<path d="M90.15,53.05 L90.15,58.66 C90.15,63.96 99.65,63.96 99.65,58.66 L99.65,53.05" fill="none" stroke="#1c1612" stroke-width="2.9" stroke-linecap="round" stroke-linejoin="round"/>
<path d="M106.45,52.95 L106.45,62.75" fill="none" stroke="#1c1612" stroke-width="2.9" stroke-linecap="round" stroke-linejoin="round"/>
<path d="M106.45,56.75 C107.78,53.75 110.88,52.75 115.30,53.35" fill="none" stroke="#1c1612" stroke-width="2.9" stroke-linecap="round" stroke-linejoin="round"/>
<path d="M119.33,58.57 L130.71,58.57 C130.95,55.05 128.53,52.85 124.90,52.85 C121.27,52.85 118.85,55.27 118.85,58.35 C118.85,61.65 121.27,63.85 124.90,63.85 C127.56,63.85 129.26,63.08 130.47,61.87" fill="none" stroke="#1c1612" stroke-width="2.9" stroke-linecap="round" stroke-linejoin="round"/>
<path d="M150.35,44.23 L156.65,39.55 L156.65,62.95" fill="none" stroke="#1c1612" stroke-width="2.9" stroke-linecap="round" stroke-linejoin="round"/>
<path d="M150.07,62.95 L162.95,62.95" fill="none" stroke="#1c1612" stroke-width="2.9" stroke-linecap="round" stroke-linejoin="round"/>
<circle cx="172.80" cy="46.94" r="1.80" fill="#1c1612"/>
<circle cx="172.80" cy="56.26" r="1.80" fill="#1c1612"/>
<path d="M196.95,63.55 L196.95,39.15 L204.05,39.15 C209.21,39.15 209.85,42.08 209.85,45.49 C209.85,49.40 208.56,51.84 204.05,51.84 L196.95,51.84" fill="none" stroke="#1c1612" stroke-width="2.9" stroke-linecap="round" stroke-linejoin="round"/>
<path d="M213.85,52.44 L213.85,61.95" fill="none" stroke="#1c1612" stroke-width="2.9" stroke-linecap="round" stroke-linejoin="round"/>
<path d="M213.85,56.13 C214.73,53.22 216.80,52.25 219.75,52.83" fill="none" stroke="#1c1612" stroke-width="2.9" stroke-linecap="round" stroke-linejoin="round"/>
<ellipse cx="229.90" cy="57.05" rx="4.55" ry="5.40" fill="none" stroke="#1c1612" stroke-width="2.9"/>
<path d="M240.15,51.65 L240.15,73.95" fill="none" stroke="#1c1612" stroke-width="2.9" stroke-linecap="round" stroke-linejoin="round"/>
<ellipse cx="244.15" cy="57.67" rx="4.00" ry="6.02" fill="none" stroke="#1c1612" stroke-width="2.9"/>
<ellipse cx="258.65" cy="57.05" rx="4.30" ry="5.40" fill="none" stroke="#1c1612" stroke-width="2.9"/>
<path d="M274.31,53.16 C273.19,51.65 271.75,51.65 270.95,51.65 C268.55,51.65 267.35,52.95 267.35,54.57 C267.35,56.51 269.35,56.83 270.95,57.05 C272.95,57.37 274.55,58.13 274.55,59.75 C274.55,61.59 272.95,62.45 270.95,62.45 C269.35,62.45 267.91,61.91 267.11,60.83" fill="none" stroke="#1c1612" stroke-width="2.9" stroke-linecap="round" stroke-linejoin="round"/>
<path d="M279.36,57.17 L288.95,57.17 C289.15,53.65 287.11,51.45 284.05,51.45 C280.99,51.45 278.95,53.87 278.95,56.95 C278.95,60.25 280.99,62.45 284.05,62.45 C286.29,62.45 287.72,61.68 288.74,60.47" fill="none" stroke="#1c1612" stroke-width="2.9" stroke-linecap="round" stroke-linejoin="round"/>
<path d="M309.45,39.65 L309.45,62.55" fill="none" stroke="#1c1612" stroke-width="2.9" stroke-linecap="round" stroke-linejoin="round"/>
<ellipse cx="302.40" cy="56.14" rx="7.05" ry="6.41" fill="none" stroke="#1c1612" stroke-width="2.9"/>
<path d="M344.67,42.86 C342.62,39.65 339.97,39.65 338.50,39.65 C334.09,39.65 331.88,42.40 331.88,45.83 C331.88,49.95 335.56,50.64 338.50,51.10 C342.18,51.79 345.12,53.39 345.12,56.83 C345.12,60.72 342.18,62.55 338.50,62.55 C335.56,62.55 332.91,61.41 331.44,59.11" fill="none" stroke="#1c1612" stroke-width="2.9" stroke-linecap="round" stroke-linejoin="round"/>
<path d="M353.30,41.45 L353.30,58.75 C353.30,62.13 354.99,62.55 358.28,61.92" fill="none" stroke="#1c1612" stroke-width="2.9" stroke-linecap="round" stroke-linejoin="round"/>
<path d="M349.35,50.31 L358.75,50.31" fill="none" stroke="#1c1612" stroke-width="2.9" stroke-linecap="round" stroke-linejoin="round"/>
<path d="M365.15,50.98 L365.15,62.15" fill="none" stroke="#1c1612" stroke-width="2.9" stroke-linecap="round" stroke-linejoin="round"/>
<path d="M365.15,55.31 C365.94,51.89 367.80,50.75 370.45,51.43" fill="none" stroke="#1c1612" stroke-width="2.9" stroke-linecap="round" stroke-linejoin="round"/>
<path d="M375.65,50.95 L375.65,57.33 C375.65,63.36 385.65,63.36 385.65,57.33 L385.65,50.95" fill="none" stroke="#1c1612" stroke-width="2.9" stroke-linecap="round" stroke-linejoin="round"/>
<path d="M398.18,52.31 L397.78,51.91 L397.35,51.58 L396.89,51.32 L396.41,51.12 L395.92,51.00 L395.43,50.95 L394.93,50.98 L394.44,51.08 L393.95,51.25 L393.49,51.49 L393.05,51.80 L392.64,52.18 L392.27,52.61 L391.93,53.10 L391.64,53.63 L391.40,54.21 L391.20,54.81 L391.06,55.45 L390.98,56.09 L390.95,56.75 L390.98,57.41 L391.06,58.05 L391.20,58.69 L391.40,59.29 L391.64,59.87 L391.93,60.40 L392.27,60.89 L392.64,61.32 L393.05,61.70 L393.49,62.01 L393.95,62.25 L394.44,62.42 L394.93,62.52 L395.43,62.55 L395.92,62.50 L396.41,62.38 L396.89,62.18 L397.35,61.92 L397.78,61.59 L398.18,61.19" fill="none" stroke="#1c1612" stroke-width="2.9" stroke-linecap="round" stroke-linejoin="round"/>
<path d="M408.96,41.45 L408.96,58.75 C408.96,62.13 411.19,62.55 415.53,61.92" fill="none" stroke="#1c1612" stroke-width="2.9" stroke-linecap="round" stroke-linejoin="round"/>
<path d="M403.75,50.31 L416.15,50.31" fill="none" stroke="#1c1612" stroke-width="2.9" stroke-linecap="round" stroke-linejoin="round"/>
<path d="M420.20,50.95 L420.20,57.33 C420.20,63.36 431.35,63.36 431.35,57.33 L431.35,50.95" fill="none" stroke="#1c1612" stroke-width="2.9" stroke-linecap="round" stroke-linejoin="round"/>
<path d="M436.65,50.98 L436.65,62.15" fill="none" stroke="#1c1612" stroke-width="2.9" stroke-linecap="round" stroke-linejoin="round"/>
<path d="M436.65,55.31 C437.44,51.89 439.30,50.75 441.95,51.43" fill="none" stroke="#1c1612" stroke-width="2.9" stroke-linecap="round" stroke-linejoin="round"/>
<path d="M447.74,56.89 L461.56,56.89 C461.85,53.11 458.91,50.75 454.50,50.75 C450.09,50.75 447.15,53.35 447.15,56.65 C447.15,60.19 450.09,62.55 454.50,62.55 C457.73,62.55 459.79,61.72 461.26,60.43" fill="none" stroke="#1c1612" stroke-width="2.9" stroke-linecap="round" stroke-linejoin="round"/>
<path d="M41.9,73 H64.4 M93.75,73 H233.8 M249,73 H476" stroke="#1c1612" stroke-width="2.2" stroke-linecap="round"/>
<path d="M413.20,648.05 L412.62,647.37 L411.99,646.80 L411.33,646.34 L410.63,646.00 L409.91,645.79 L409.19,645.70 L408.46,645.75 L407.74,645.92 L407.04,646.22 L406.36,646.64 L405.72,647.18 L405.12,647.83 L404.57,648.58 L404.08,649.43 L403.66,650.35 L403.30,651.34 L403.02,652.40 L402.81,653.49 L402.69,654.61 L402.65,655.75 L402.69,656.89 L402.81,658.01 L403.02,659.10 L403.30,660.16 L403.66,661.15 L404.08,662.07 L404.57,662.92 L405.12,663.67 L405.72,664.32 L406.36,664.86 L407.04,665.28 L407.74,665.58 L408.46,665.75 L409.19,665.80 L409.91,665.71 L410.63,665.50 L411.33,665.16 L411.99,664.70 L412.62,664.13 L413.20,663.45" fill="none" stroke="#1c1612" stroke-width="2.8" stroke-linecap="round" stroke-linejoin="round"/>
<path d="M418.30,645.70 L425.45,655.35 L432.60,645.70" fill="none" stroke="#1c1612" stroke-width="2.8" stroke-linecap="round" stroke-linejoin="round"/>
<path d="M425.45,655.35 L425.45,665.80" fill="none" stroke="#1c1612" stroke-width="2.8" stroke-linecap="round" stroke-linejoin="round"/>
<path d="M446.14,648.05 L445.59,647.37 L445.00,646.80 L444.37,646.34 L443.71,646.00 L443.04,645.79 L442.36,645.70 L441.67,645.75 L440.99,645.92 L440.33,646.22 L439.69,646.64 L439.09,647.18 L438.53,647.83 L438.01,648.58 L437.55,649.43 L437.15,650.35 L436.81,651.34 L436.55,652.40 L436.36,653.49 L436.24,654.61 L436.20,655.75 L436.24,656.89 L436.36,658.01 L436.55,659.10 L436.81,660.16 L437.15,661.15 L437.55,662.07 L438.01,662.92 L438.53,663.67 L439.09,664.32 L439.69,664.86 L440.33,665.28 L440.99,665.58 L441.67,665.75 L442.36,665.80 L443.04,665.71 L443.71,665.50 L444.37,665.16 L445.00,664.70 L445.59,664.13 L446.14,663.45" fill="none" stroke="#1c1612" stroke-width="2.8" stroke-linecap="round" stroke-linejoin="round"/>
<path d="M453.40,645.70 L453.40,665.80 L461.60,665.80" fill="none" stroke="#1c1612" stroke-width="2.8" stroke-linecap="round" stroke-linejoin="round"/>
<ellipse cx="472.35" cy="655.75" rx="6.45" ry="10.05" fill="none" stroke="#1c1612" stroke-width="2.8"/>
<ellipse cx="504.40" cy="655.75" rx="6.40" ry="10.05" fill="none" stroke="#1c1612" stroke-width="2.8"/>
<path d="M524.39,648.05 L523.88,647.37 L523.33,646.80 L522.74,646.34 L522.14,646.00 L521.51,645.79 L520.87,645.70 L520.24,645.75 L519.61,645.92 L518.99,646.22 L518.40,646.64 L517.84,647.18 L517.31,647.83 L516.83,648.58 L516.40,649.43 L516.03,650.35 L515.72,651.34 L515.47,652.40 L515.29,653.49 L515.19,654.61 L515.15,655.75 L515.19,656.89 L515.29,658.01 L515.47,659.10 L515.72,660.16 L516.03,661.15 L516.40,662.07 L516.83,662.92 L517.31,663.67 L517.84,664.32 L518.40,664.86 L518.99,665.28 L519.61,665.58 L520.24,665.75 L520.87,665.80 L521.51,665.71 L522.14,665.50 L522.74,665.16 L523.33,664.70 L523.88,664.13 L524.39,663.45" fill="none" stroke="#1c1612" stroke-width="2.8" stroke-linecap="round" stroke-linejoin="round"/>
<path d="M530.00,645.70 L542.80,645.70" fill="none" stroke="#1c1612" stroke-width="2.8" stroke-linecap="round" stroke-linejoin="round"/>
<path d="M536.40,645.70 L536.40,665.80" fill="none" stroke="#1c1612" stroke-width="2.8" stroke-linecap="round" stroke-linejoin="round"/>
<path d="M544.80,645.70 L552.00,655.35 L559.20,645.70" fill="none" stroke="#1c1612" stroke-width="2.8" stroke-linecap="round" stroke-linejoin="round"/>
<path d="M552.00,655.35 L552.00,665.80" fill="none" stroke="#1c1612" stroke-width="2.8" stroke-linecap="round" stroke-linejoin="round"/>
<path d="M564.40,645.70 L564.40,665.80 L574.10,665.80" fill="none" stroke="#1c1612" stroke-width="2.8" stroke-linecap="round" stroke-linejoin="round"/>
<path d="M596.20,665.80 L596.20,645.70 L602.03,645.70 C606.27,645.70 606.80,648.11 606.80,650.93 C606.80,654.14 605.74,656.15 602.03,656.15 L596.20,656.15" fill="none" stroke="#1c1612" stroke-width="2.8" stroke-linecap="round" stroke-linejoin="round"/>
<ellipse cx="616.65" cy="655.75" rx="6.35" ry="10.05" fill="none" stroke="#1c1612" stroke-width="2.8"/>
<path d="M627.20,645.70 L627.20,665.80 L635.60,665.80" fill="none" stroke="#1c1612" stroke-width="2.8" stroke-linecap="round" stroke-linejoin="round"/>
<path d="M637.00,645.70 L644.05,655.35 L651.10,645.70" fill="none" stroke="#1c1612" stroke-width="2.8" stroke-linecap="round" stroke-linejoin="round"/>
<path d="M644.05,655.35 L644.05,665.80" fill="none" stroke="#1c1612" stroke-width="2.8" stroke-linecap="round" stroke-linejoin="round"/>
<path d="M656.70,665.80 L656.70,645.70 L661.76,645.70 C665.44,645.70 665.90,648.11 665.90,650.93 C665.90,654.14 664.98,656.15 661.76,656.15 L656.70,656.15" fill="none" stroke="#1c1612" stroke-width="2.8" stroke-linecap="round" stroke-linejoin="round"/>
<path d="M670.80,645.70 L670.80,665.80" fill="none" stroke="#1c1612" stroke-width="2.8" stroke-linecap="round" stroke-linejoin="round"/>
<path d="M684.20,645.70 L684.20,665.80" fill="none" stroke="#1c1612" stroke-width="2.8" stroke-linecap="round" stroke-linejoin="round"/>
<path d="M670.80,655.75 L684.20,655.75" fill="none" stroke="#1c1612" stroke-width="2.8" stroke-linecap="round" stroke-linejoin="round"/>
<path d="M700.30,645.70 L691.20,645.70 L691.20,665.80 L700.30,665.80" fill="none" stroke="#1c1612" stroke-width="2.8" stroke-linecap="round" stroke-linejoin="round"/>
<path d="M691.20,655.75 L698.94,655.75" fill="none" stroke="#1c1612" stroke-width="2.8" stroke-linecap="round" stroke-linejoin="round"/>
<path d="M706.60,665.80 L706.60,645.70 L720.70,665.80 L720.70,645.70" fill="none" stroke="#1c1612" stroke-width="2.8" stroke-linecap="round" stroke-linejoin="round"/>
<ellipse cx="732.70" cy="655.75" rx="6.30" ry="10.05" fill="none" stroke="#1c1612" stroke-width="2.8"/>
<path d="M743.90,645.70 L743.90,665.80 L753.80,665.80" fill="none" stroke="#1c1612" stroke-width="2.8" stroke-linecap="round" stroke-linejoin="round"/>
<path d="M770.00,645.70 L770.00,665.80 L774.83,665.80 C781.73,665.80 783.80,661.78 783.80,655.75 C783.80,649.72 781.73,645.70 774.83,645.70 L770.00,645.70" fill="none" stroke="#1c1612" stroke-width="2.8" stroke-linecap="round" stroke-linejoin="round"/>
<path d="M798.40,645.70 L789.30,645.70 L789.30,665.80 L798.40,665.80" fill="none" stroke="#1c1612" stroke-width="2.8" stroke-linecap="round" stroke-linejoin="round"/>
<path d="M789.30,655.75 L797.03,655.75" fill="none" stroke="#1c1612" stroke-width="2.8" stroke-linecap="round" stroke-linejoin="round"/>
<path d="M803.90,665.80 L803.90,645.70 L810.39,645.70 C815.11,645.70 815.70,648.11 815.70,650.93 C815.70,654.14 814.52,655.75 810.39,655.75 L803.90,655.75" fill="none" stroke="#1c1612" stroke-width="2.8" stroke-linecap="round" stroke-linejoin="round"/>
<path d="M809.21,655.75 L815.70,665.80" fill="none" stroke="#1c1612" stroke-width="2.8" stroke-linecap="round" stroke-linejoin="round"/>
<path d="M821.75,645.70 L821.75,665.80" fill="none" stroke="#1c1612" stroke-width="2.8" stroke-linecap="round" stroke-linejoin="round"/>
<path d="M826.40,645.70 L833.00,665.80 L839.60,645.70" fill="none" stroke="#1c1612" stroke-width="2.8" stroke-linecap="round" stroke-linejoin="round"/>
<path d="M841.10,665.80 L849.00,645.70 L856.90,665.80" fill="none" stroke="#1c1612" stroke-width="2.8" stroke-linecap="round" stroke-linejoin="round"/>
<path d="M844.58,658.56 L853.42,658.56" fill="none" stroke="#1c1612" stroke-width="2.8" stroke-linecap="round" stroke-linejoin="round"/>
<path d="M858.40,645.70 L872.80,645.70" fill="none" stroke="#1c1612" stroke-width="2.8" stroke-linecap="round" stroke-linejoin="round"/>
<path d="M865.60,645.70 L865.60,665.80" fill="none" stroke="#1c1612" stroke-width="2.8" stroke-linecap="round" stroke-linejoin="round"/>
<path d="M877.50,645.70 L877.50,665.80" fill="none" stroke="#1c1612" stroke-width="2.8" stroke-linecap="round" stroke-linejoin="round"/>
<path d="M881.60,645.70 L888.50,665.80 L895.40,645.70" fill="none" stroke="#1c1612" stroke-width="2.8" stroke-linecap="round" stroke-linejoin="round"/>
<path d="M912.60,645.70 L900.80,645.70 L900.80,665.80 L912.60,665.80" fill="none" stroke="#1c1612" stroke-width="2.8" stroke-linecap="round" stroke-linejoin="round"/>
<path d="M900.80,655.75 L910.83,655.75" fill="none" stroke="#1c1612" stroke-width="2.8" stroke-linecap="round" stroke-linejoin="round"/>
<path d="M484.5,656.6 H491.5 M580.5,656.6 H587" stroke="#1c1612" stroke-width="2.8" stroke-linecap="round"/>
<path d="M393,675.4 H928" stroke="#1c1612" stroke-width="2.2" stroke-linecap="round"/>
</svg>
</body></html>
